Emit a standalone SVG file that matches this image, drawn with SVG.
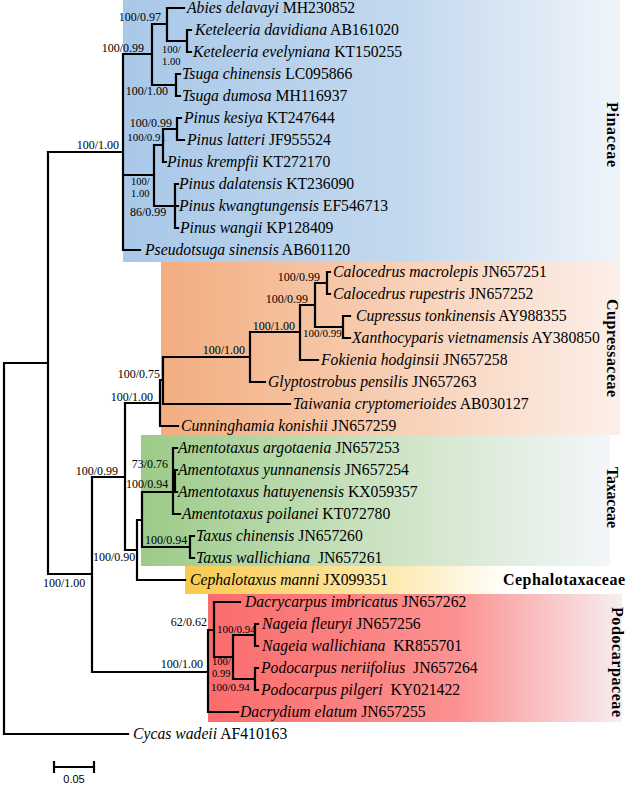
<svg xmlns="http://www.w3.org/2000/svg" width="632" height="789" viewBox="0 0 632 789">
<defs>
<linearGradient id="gBlue" x1="0" y1="0" x2="1" y2="0">
<stop offset="0" stop-color="#a9c8e8"/><stop offset="0.55" stop-color="#c2d8ee"/><stop offset="1" stop-color="#eff4fa"/>
</linearGradient>
<linearGradient id="gOrange" x1="0" y1="0" x2="1" y2="0">
<stop offset="0" stop-color="#f2ad80"/><stop offset="0.45" stop-color="#f7cbae"/><stop offset="1" stop-color="#fcefe9"/>
</linearGradient>
<linearGradient id="gGreen" x1="0" y1="0" x2="1" y2="0">
<stop offset="0" stop-color="#9ccb88"/><stop offset="0.45" stop-color="#c6e0bb"/><stop offset="1" stop-color="#f3f6fa"/>
</linearGradient>
<linearGradient id="gYellow" x1="0" y1="0" x2="1" y2="0">
<stop offset="0" stop-color="#f8c94f"/><stop offset="0.45" stop-color="#fce8a8"/><stop offset="0.75" stop-color="#ffffff"/><stop offset="1" stop-color="#ffffff"/>
</linearGradient>
<linearGradient id="gRed" x1="0" y1="0" x2="1" y2="0">
<stop offset="0" stop-color="#fb6c6c"/><stop offset="0.6" stop-color="#fc9191"/><stop offset="1" stop-color="#f7eef0"/>
</linearGradient>
</defs>
<style>
.tip { font-family: "Liberation Serif", "Times New Roman", serif; font-size: 15.7px; fill: #000; }
.sp { font-style: italic; }
.bs { font-family: "Liberation Serif", "Times New Roman", serif; font-size: 12px; fill: #000; }
.bss { font-family: "Liberation Serif", "Times New Roman", serif; font-size: 11px; fill: #000; }
.stk { font-family: "Liberation Serif", "Times New Roman", serif; font-size: 10.5px; fill: #000; }
.fam { font-family: "Liberation Serif", "Times New Roman", serif; font-size: 16px; font-weight: bold; fill: #000; }
.br { stroke: #000; stroke-width: 2.2; fill: none; stroke-linecap: square; }
.scale { font-family: "Liberation Sans", Arial, sans-serif; font-size: 11px; fill: #000; }
</style>
<rect width="632" height="789" fill="#ffffff"/>
<g id="clade-backgrounds">
<rect id="bg-pinaceae" x="123" y="0" width="497" height="262" fill="url(#gBlue)"/>
<rect id="bg-cupressaceae" x="161" y="262" width="459" height="173" fill="url(#gOrange)"/>
<rect id="bg-taxaceae" x="141" y="435" width="469" height="131" fill="url(#gGreen)"/>
<rect id="bg-cephalotaxaceae" x="185" y="566" width="435" height="28" fill="url(#gYellow)"/>
<rect id="bg-podocarpaceae" x="208" y="594" width="414" height="128" fill="url(#gRed)"/>
</g>
<g id="connectors">
<path class="br" d="M167,8 H184 M187,30 H191 M187,52 H191 M187,30 V52 M167,41 H187 M167,8 V41 M152,24 H167 M176,74 H180 M176,96 H180 M176,74 V96 M152,85 H176 M152,24 V85 M123,54 H152 M177,118 H181 M177,140 H184 M177,118 V140 M163,129 H177 M163,162 H166 M163,129 V162 M154,145 H163 M175,184 H178 M175,206 H178 M175,228 H178 M175,184 V228 M154,206 H175 M154,145 V206 M123,175 H154 M123,250 H140 M123,54 V250 M48,152 H123"/>
<path class="br" d="M327,272 H330 M327,294 H330 M327,272 V294 M315,283 H327 M343,316 H350 M343,338 H350 M343,316 V338 M315,327 H343 M315,283 V327 M300,305 H315 M300,360 H318 M300,305 V360 M250,332 H300 M250,382 H265 M250,332 V382 M163,357 H250 M163,404 H290 M163,357 V404 M160,380 H163 M160,426 H178 M160,380 V426 M125,403 H160"/>
<path class="br" d="M173,448 H177 M173,514 H180 M173,448 V514 M173,481 H175 M175,470 H177 M175,492 H177 M175,470 V492 M142,492 H173 M190,536 H194 M190,558 H194 M190,536 V558 M142,547 H190 M142,492 V547 M137,520 H142 M137,580 H185 M137,520 V580 M125,550 H137 M125,403 V550 M92,477 H125"/>
<path class="br" d="M214,602 H240 M255,624 H258 M255,646 H258 M255,624 V646 M255,668 H258 M255,690 H258 M255,668 V690 M233,635 H255 M233,679 H255 M233,635 V679 M214,657 H233 M214,602 V657 M208,630 H214 M208,712 H238 M208,630 V712 M92,672 H208 M92,477 V672 M48,574 H92 M48,152 V574 M4,363 H48 M4,734 H128 M4,363 V734"/>
</g>
<g id="support-values">
<text class="bs" x="161" y="21" text-anchor="end">100/0.97</text>
<text class="bs" x="144" y="52" text-anchor="end">100/0.99</text>
<text class="stk" x="162" y="53">100/</text>
<text class="stk" x="162" y="65">1.00</text>
<text class="bs" x="168" y="95" text-anchor="end">100/1.00</text>
<text class="bs" x="172" y="127" text-anchor="end">100/0.99</text>
<text class="bss" x="166" y="141" text-anchor="end">100/0.91</text>
<text class="bs" x="119" y="149" text-anchor="end">100/1.00</text>
<text class="stk" x="131" y="185">100/</text>
<text class="stk" x="131" y="197">1.00</text>
<text class="bs" x="130" y="216">86/0.99</text>
<text class="bs" x="320" y="281" text-anchor="end">100/0.99</text>
<text class="bs" x="308" y="303" text-anchor="end">100/0.99</text>
<text class="bss" x="303" y="337">100/0.99</text>
<text class="bs" x="295" y="330" text-anchor="end">100/1.00</text>
<text class="bs" x="245" y="354" text-anchor="end">100/1.00</text>
<text class="bs" x="160" y="378" text-anchor="end">100/0.75</text>
<text class="bs" x="153" y="401" text-anchor="end">100/1.00</text>
<text class="bs" x="168" y="468" text-anchor="end">73/0.76</text>
<text class="bs" x="126" y="488">100/0.94</text>
<text class="bs" x="145" y="544">100/0.94</text>
<text class="bs" x="118" y="475" text-anchor="end">100/0.99</text>
<text class="bs" x="93" y="561">100/0.90</text>
<text class="bs" x="43" y="587">100/1.00</text>
<text class="bs" x="207" y="626" text-anchor="end">62/0.62</text>
<text class="bss" x="217" y="633">100/0.94</text>
<text class="stk" x="212" y="665">100/</text>
<text class="stk" x="212" y="677">0.99</text>
<text class="bss" x="211" y="691">100/0.94</text>
<text class="bs" x="203" y="668" text-anchor="end">100/1.00</text>
</g>
<g id="n-abies-delavayi"><text class="tip" x="187" y="13"><tspan class="sp">Abies delavayi</tspan> MH230852</text></g>
<g id="n-keteleeria-davidiana"><text class="tip" x="195" y="35"><tspan class="sp">Keteleeria davidiana</tspan> AB161020</text></g>
<g id="n-keteleeria-evelyniana"><text class="tip" x="193" y="57"><tspan class="sp">Keteleeria evelyniana</tspan> KT150255</text></g>
<g id="n-tsuga-chinensis"><text class="tip" x="182" y="79"><tspan class="sp">Tsuga chinensis</tspan> LC095866</text></g>
<g id="n-tsuga-dumosa"><text class="tip" x="182" y="101"><tspan class="sp">Tsuga dumosa</tspan> MH116937</text></g>
<g id="n-pinus-kesiya"><text class="tip" x="184" y="123"><tspan class="sp">Pinus kesiya</tspan> KT247644</text></g>
<g id="n-pinus-latteri"><text class="tip" x="187" y="145"><tspan class="sp">Pinus latteri</tspan> JF955524</text></g>
<g id="n-pinus-krempfii"><text class="tip" x="167" y="167"><tspan class="sp">Pinus krempfii</tspan> KT272170</text></g>
<g id="n-pinus-dalatensis"><text class="tip" x="179" y="189"><tspan class="sp">Pinus dalatensis</tspan> KT236090</text></g>
<g id="n-pinus-kwangtungensis"><text class="tip" x="179" y="211"><tspan class="sp">Pinus kwangtungensis</tspan> EF546713</text></g>
<g id="n-pinus-wangii"><text class="tip" x="180" y="233"><tspan class="sp">Pinus wangii</tspan> KP128409</text></g>
<g id="n-pseudotsuga-sinensis"><text class="tip" x="145" y="255"><tspan class="sp">Pseudotsuga sinensis</tspan> AB601120</text></g>
<g id="n-calocedrus-macrolepis"><text class="tip" x="333" y="277"><tspan class="sp">Calocedrus macrolepis</tspan> JN657251</text></g>
<g id="n-calocedrus-rupestris"><text class="tip" x="333" y="299"><tspan class="sp">Calocedrus rupestris</tspan> JN657252</text></g>
<g id="n-cupressus-tonkinensis"><text class="tip" x="356" y="321"><tspan class="sp">Cupressus tonkinensis</tspan> AY988355</text></g>
<g id="n-xanthocyparis-vietnamensis"><text class="tip" x="352" y="343"><tspan class="sp">Xanthocyparis vietnamensis</tspan> AY380850</text></g>
<g id="n-fokienia-hodginsii"><text class="tip" x="321" y="365"><tspan class="sp">Fokienia hodginsii</tspan> JN657258</text></g>
<g id="n-glyptostrobus-pensilis"><text class="tip" x="268" y="387"><tspan class="sp">Glyptostrobus pensilis</tspan> JN657263</text></g>
<g id="n-taiwania-cryptomerioides"><text class="tip" x="293" y="409"><tspan class="sp">Taiwania cryptomerioides</tspan> AB030127</text></g>
<g id="n-cunninghamia-konishii"><text class="tip" x="181" y="431"><tspan class="sp">Cunninghamia konishii</tspan> JN657259</text></g>
<g id="n-amentotaxus-argotaenia"><text class="tip" x="178" y="453"><tspan class="sp">Amentotaxus argotaenia</tspan> JN657253</text></g>
<g id="n-amentotaxus-yunnanensis"><text class="tip" x="178" y="475"><tspan class="sp">Amentotaxus yunnanensis</tspan> JN657254</text></g>
<g id="n-amentotaxus-hatuyenensis"><text class="tip" x="178" y="497"><tspan class="sp">Amentotaxus hatuyenensis</tspan> KX059357</text></g>
<g id="n-amentotaxus-poilanei"><text class="tip" x="182" y="519"><tspan class="sp">Amentotaxus poilanei</tspan> KT072780</text></g>
<g id="n-taxus-chinensis"><text class="tip" x="196" y="541"><tspan class="sp">Taxus chinensis</tspan> JN657260</text></g>
<g id="n-taxus-wallichiana"><text class="tip" x="196" y="563" xml:space="preserve"><tspan class="sp">Taxus wallichiana</tspan>  JN657261</text></g>
<g id="n-cephalotaxus-manni"><text class="tip" x="190" y="585"><tspan class="sp">Cephalotaxus manni</tspan> JX099351</text></g>
<g id="n-dacrycarpus-imbricatus"><text class="tip" x="245" y="607"><tspan class="sp">Dacrycarpus imbricatus</tspan> JN657262</text></g>
<g id="n-nageia-fleuryi"><text class="tip" x="262" y="629"><tspan class="sp">Nageia fleuryi</tspan> JN657256</text></g>
<g id="n-nageia-wallichiana"><text class="tip" x="262" y="651" xml:space="preserve"><tspan class="sp">Nageia wallichiana</tspan>  KR855701</text></g>
<g id="n-podocarpus-neriifolius"><text class="tip" x="261" y="673" xml:space="preserve"><tspan class="sp">Podocarpus neriifolius</tspan>  JN657264</text></g>
<g id="n-podocarpus-pilgeri"><text class="tip" x="261" y="695" xml:space="preserve"><tspan class="sp">Podocarpus pilgeri</tspan>  KY021422</text></g>
<g id="n-dacrydium-elatum"><text class="tip" x="240" y="717"><tspan class="sp">Dacrydium elatum</tspan> JN657255</text></g>
<g id="n-cycas-wadeii"><text class="tip" x="133" y="739"><tspan class="sp">Cycas wadeii</tspan> AF410163</text></g>
<g id="family-labels">
<text class="fam" transform="translate(607,134.5) rotate(90)" text-anchor="middle" textLength="65" lengthAdjust="spacing">Pinaceae</text>
<text class="fam" transform="translate(607,348) rotate(90)" text-anchor="middle" textLength="98" lengthAdjust="spacing">Cupressaceae</text>
<text class="fam" transform="translate(607,497.5) rotate(90)" text-anchor="middle" textLength="61" lengthAdjust="spacing">Taxaceae</text>
<text class="fam" x="503" y="585" textLength="122" lengthAdjust="spacing">Cephalotaxaceae</text>
<text class="fam" transform="translate(612,662) rotate(90)" text-anchor="middle" textLength="110" lengthAdjust="spacing">Podocarpaceae</text>
</g>
<g id="scale-bar">
<path class="br" d="M54,767 H94 M54,762 V772 M94,762 V772"/>
<text class="scale" x="74" y="783" text-anchor="middle">0.05</text>
</g>
</svg>
